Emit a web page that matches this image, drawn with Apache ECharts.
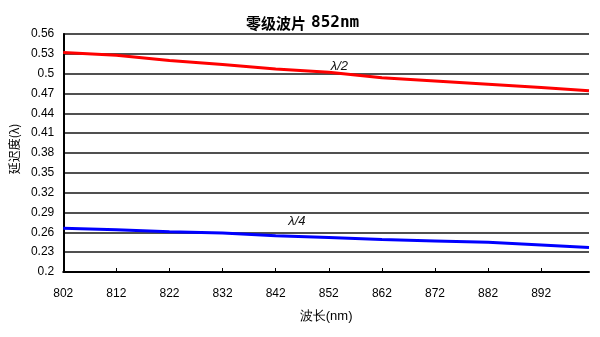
<!DOCTYPE html>
<html>
<head>
<meta charset="utf-8">
<script src="https://cdn.jsdelivr.net/npm/echarts@6/dist/echarts.min.js"></script>
<style>html,body{margin:0;padding:0;background:#fff}#c{width:600px;height:337px}</style>
</head>
<body>
<div id="c"></div>
<script>
const wavelengths = [802, 812, 822, 832, 842, 852, 862, 872, 882, 892, 901];
const halfWave = [0.532, 0.528, 0.520, 0.514, 0.507, 0.502, 0.494, 0.489, 0.484, 0.479, 0.474];
const quarterWave = [0.266, 0.264, 0.261, 0.259, 0.255, 0.252, 0.249, 0.247, 0.245, 0.241, 0.237];
const xTicks = [802, 812, 822, 832, 842, 852, 862, 872, 882, 892];
const titleCn = '零级波片';
const titleEn = '852nm';
const xName = '波长(nm)';
const yName = '延迟度(λ)';
const halfLabel = { text: 'λ/2', x: 854, y: 0.511 };
const quarterLabel = { text: 'λ/4', x: 846, y: 0.276 };

const chart = echarts.init(document.getElementById('c'));
const pairs = (xs, ys) => xs.map((x, i) => [x, ys[i]]);
chart.setOption({
  animation: false,
  title: {
    text: '{cn|' + titleCn + '} {en|' + titleEn + '}', left: 241, top: 9,
    textStyle: {
      rich: {
        cn: { fontFamily: 'Noto Sans CJK SC', fontSize: 15, fontWeight: 'bold', color: '#000' },
        en: { fontFamily: 'DejaVu Sans Mono', fontSize: 16, fontWeight: 'bold', color: '#000' }
      }
    }
  },
  grid: { left: 63, right: 11, top: 34, bottom: 65, containLabel: false },
  xAxis: {
    type: 'value', min: 802, max: 901, interval: 10,
    name: xName, nameLocation: 'middle', nameGap: 38,
    nameTextStyle: { fontFamily: 'Liberation Sans', fontSize: 13, color: '#000' },
    axisLine: { lineStyle: { color: '#000', width: 2 } },
    axisTick: { show: true, inside: true, length: 4, customValues: xTicks, lineStyle: { color: '#000' } },
    axisLabel: { customValues: xTicks, margin: 16, fontFamily: 'Liberation Sans', fontSize: 12, color: '#000' },
    splitLine: { show: false }
  },
  yAxis: {
    type: 'value', min: 0.2, max: 0.56, interval: 0.03,
    name: yName, nameLocation: 'middle', nameGap: 42, nameRotate: 90,
    nameTextStyle: { fontFamily: 'Noto Sans CJK SC', fontSize: 12, color: '#000', padding: [0, 0, 0, 8] },
    axisLine: { show: true, lineStyle: { color: '#000', width: 2 } },
    axisTick: { show: false },
    axisLabel: { margin: 9, fontFamily: 'Liberation Sans', fontSize: 12, color: '#000',
      formatter: v => String(+v.toFixed(2)) },
    splitLine: { show: true, lineStyle: { color: '#505050', width: 2 } }
  },
  series: [
    {
      type: 'line', data: pairs(wavelengths, halfWave), showSymbol: false, symbol: 'none',
      lineStyle: { color: '#ff0000', width: 3 },
      markPoint: { symbol: 'circle', symbolSize: 0, data: [{ coord: [halfLabel.x, halfLabel.y] }],
        label: { show: true, position: 'inside', formatter: halfLabel.text, fontFamily: 'Liberation Sans', fontStyle: 'italic', fontSize: 13, color: '#111' } }
    },
    {
      type: 'line', data: pairs(wavelengths, quarterWave), showSymbol: false, symbol: 'none',
      lineStyle: { color: '#0000ff', width: 3 },
      markPoint: { symbol: 'circle', symbolSize: 0, data: [{ coord: [quarterLabel.x, quarterLabel.y] }],
        label: { show: true, position: 'inside', formatter: quarterLabel.text, fontFamily: 'Liberation Sans', fontStyle: 'italic', fontSize: 13, color: '#111' } }
    }
  ]
});
</script>
</body>
</html>
